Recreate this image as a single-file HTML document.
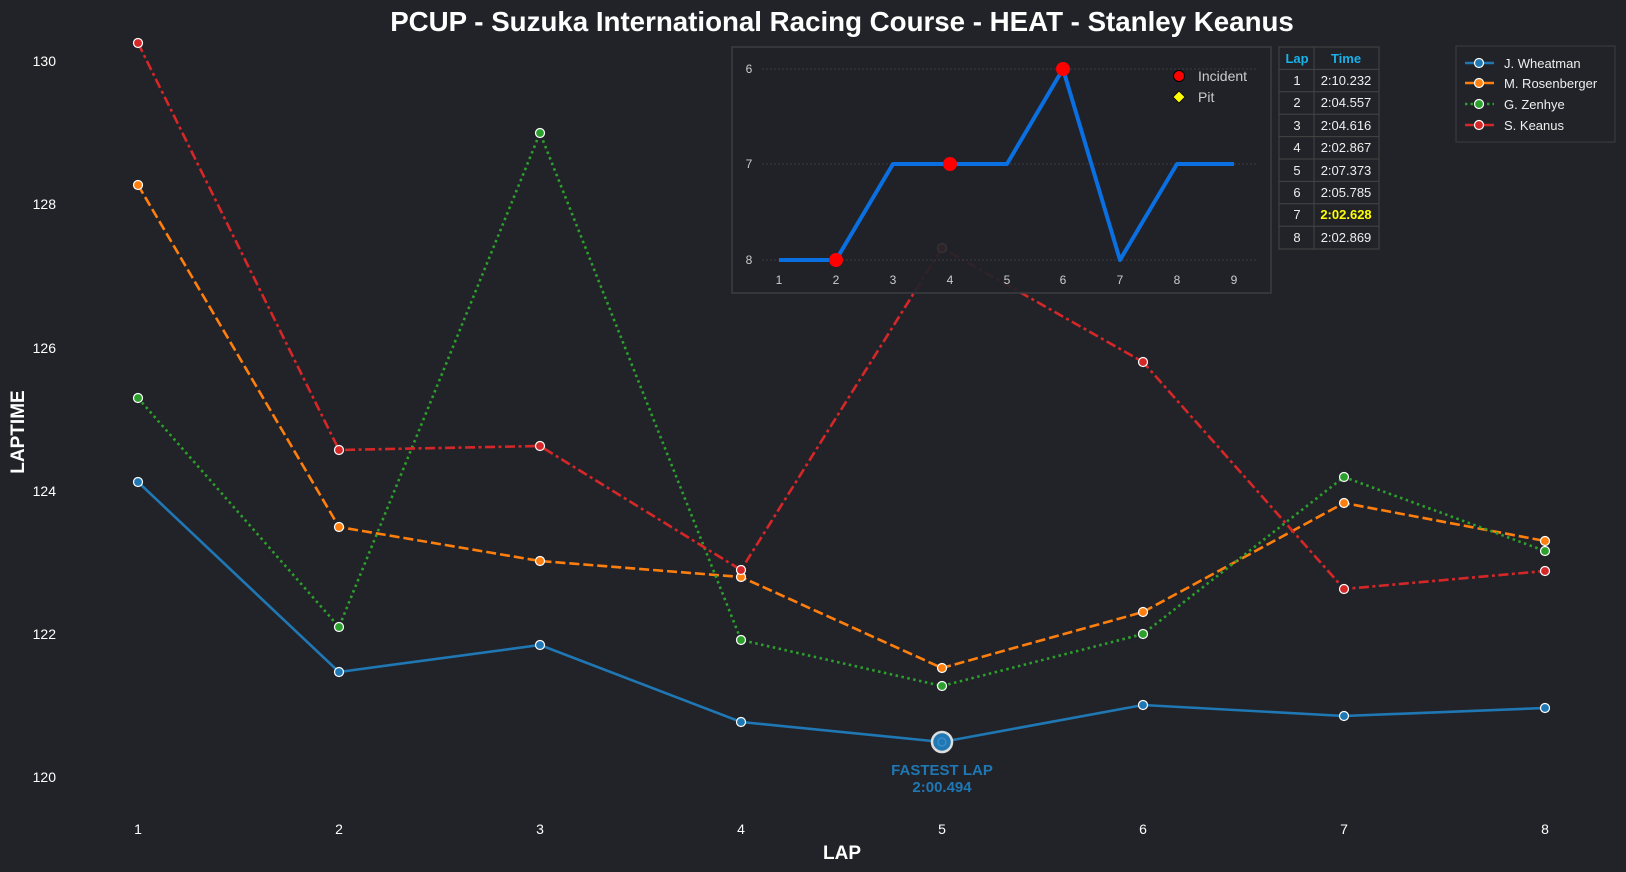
<!DOCTYPE html>
<html><head><meta charset="utf-8"><style>
html,body{margin:0;padding:0;background:#212328;}
svg{display:block;font-family:"Liberation Sans",sans-serif;}
</style></head><body>
<svg width="1626" height="872" viewBox="0 0 1626 872" xmlns="http://www.w3.org/2000/svg">
<rect width="1626" height="872" fill="#212328"/>
<text x="842" y="31" text-anchor="middle" fill="#fff" font-size="27.7" font-weight="bold">PCUP - Suzuka International Racing Course - HEAT - Stanley Keanus</text>
<g fill="#fff" font-size="14" text-anchor="end">
<text x="56" y="66">130</text><text x="56" y="209">128</text><text x="56" y="353">126</text>
<text x="56" y="496">124</text><text x="56" y="639">122</text><text x="56" y="782">120</text>
</g>
<text transform="translate(24,432) rotate(-90)" text-anchor="middle" fill="#fff" font-size="19" font-weight="bold">LAPTIME</text>
<g fill="#fff" font-size="14" text-anchor="middle">
<text x="138" y="834">1</text><text x="339" y="834">2</text><text x="540" y="834">3</text><text x="741" y="834">4</text>
<text x="942" y="834">5</text><text x="1143" y="834">6</text><text x="1344" y="834">7</text><text x="1545" y="834">8</text>
</g>
<text x="842" y="859" text-anchor="middle" fill="#fff" font-size="19" font-weight="bold">LAP</text>

<g fill="none" stroke-width="2.6">
<polyline stroke="#1f77b4" points="138,482 339,672 540,645 741,722 942,742 1143,705 1344,716 1545,708"/>
<polyline stroke="#ff7f0e" stroke-dasharray="10,4" points="138,185 339,527 540,561 741,577 942,668 1143,612 1344,503 1545,541"/>
<polyline stroke="#2ca02c" stroke-dasharray="2.5,3.5" points="138,398 339,627 540,133 741,640 942,686 1143,634 1344,477 1545,551"/>
<polyline stroke="#d62728" stroke-dasharray="10,3.5,3,3.5" points="138,43 339,450 540,446 741,570 942,248 1143,362 1344,589 1545,571"/>
</g>
<g stroke="#fff" stroke-width="1.2">
<g fill="#1f77b4"><circle cx="138" cy="482" r="4.5"/><circle cx="339" cy="672" r="4.5"/><circle cx="540" cy="645" r="4.5"/><circle cx="741" cy="722" r="4.5"/><circle cx="1143" cy="705" r="4.5"/><circle cx="1344" cy="716" r="4.5"/><circle cx="1545" cy="708" r="4.5"/></g>
<g fill="#ff7f0e"><circle cx="138" cy="185" r="4.5"/><circle cx="339" cy="527" r="4.5"/><circle cx="540" cy="561" r="4.5"/><circle cx="741" cy="577" r="4.5"/><circle cx="942" cy="668" r="4.5"/><circle cx="1143" cy="612" r="4.5"/><circle cx="1344" cy="503" r="4.5"/><circle cx="1545" cy="541" r="4.5"/></g>
<g fill="#2ca02c"><circle cx="138" cy="398" r="4.5"/><circle cx="339" cy="627" r="4.5"/><circle cx="540" cy="133" r="4.5"/><circle cx="741" cy="640" r="4.5"/><circle cx="942" cy="686" r="4.5"/><circle cx="1143" cy="634" r="4.5"/><circle cx="1344" cy="477" r="4.5"/><circle cx="1545" cy="551" r="4.5"/></g>
<g fill="#d62728"><circle cx="138" cy="43" r="4.5"/><circle cx="339" cy="450" r="4.5"/><circle cx="540" cy="446" r="4.5"/><circle cx="741" cy="570" r="4.5"/><circle cx="942" cy="248" r="4.5"/><circle cx="1143" cy="362" r="4.5"/><circle cx="1344" cy="589" r="4.5"/><circle cx="1545" cy="571" r="4.5"/></g>
</g>
<circle cx="942" cy="742" r="10" fill="#1f77b4" stroke="#ddd" stroke-width="2.5"/>
<circle cx="942" cy="742" r="4" fill="none" stroke="#3a8cc8" stroke-width="1.5"/>
<text x="942" y="775" text-anchor="middle" fill="#1f77b4" font-size="15" font-weight="bold">FASTEST LAP</text>
<text x="942" y="792" text-anchor="middle" fill="#1f77b4" font-size="15" font-weight="bold">2:00.494</text>

<!-- inset -->
<rect x="732" y="47" width="539" height="246" fill="#212328" fill-opacity="0.92" stroke="#3a3c42" stroke-width="1.5"/>
<g stroke="#3a3c42" stroke-dasharray="2,2" stroke-width="1">
<line x1="762" y1="69" x2="1257" y2="69"/><line x1="762" y1="164" x2="1257" y2="164"/><line x1="762" y1="260" x2="1257" y2="260"/>
</g>
<g fill="#ccc" font-size="12" text-anchor="middle">
<text x="749" y="73">6</text><text x="749" y="168">7</text><text x="749" y="264">8</text>
<text x="779" y="284">1</text><text x="836" y="284">2</text><text x="893" y="284">3</text><text x="950" y="284">4</text><text x="1007" y="284">5</text><text x="1063" y="284">6</text><text x="1120" y="284">7</text><text x="1177" y="284">8</text><text x="1234" y="284">9</text>
</g>
<polyline fill="none" stroke="#0a6fe0" stroke-width="4" stroke-linejoin="round" points="779,260 836,260 893,164 950,164 1007,164 1063,69 1120,260 1177,164 1234,164"/>
<g fill="#ff0000"><circle cx="836" cy="260" r="7"/><circle cx="950" cy="164" r="7"/><circle cx="1063" cy="69" r="7"/></g>
<circle cx="1179" cy="76" r="5.5" fill="#ff0000" stroke="#000" stroke-width="1"/>
<polygon points="1179,91 1185,97 1179,103 1173,97" fill="#ffff00" stroke="#000" stroke-width="0.8"/>
<text x="1198" y="81" fill="#ccc" font-size="14">Incident</text>
<text x="1198" y="102" fill="#ccc" font-size="14">Pit</text>

<!-- table -->
<g stroke="#444" stroke-width="1" fill="none">
<rect x="1279" y="47" width="100" height="202"/>
<line x1="1314" y1="47" x2="1314" y2="249"/>
<line x1="1279" y1="69.4" x2="1379" y2="69.4"/><line x1="1279" y1="91.8" x2="1379" y2="91.8"/><line x1="1279" y1="114.2" x2="1379" y2="114.2"/><line x1="1279" y1="136.6" x2="1379" y2="136.6"/><line x1="1279" y1="159" x2="1379" y2="159"/><line x1="1279" y1="181.4" x2="1379" y2="181.4"/><line x1="1279" y1="203.8" x2="1379" y2="203.8"/><line x1="1279" y1="226.2" x2="1379" y2="226.2"/>
</g>
<g font-size="13" text-anchor="middle" fill="#eee">
<text x="1297" y="63" fill="#1ab0e8" font-weight="bold">Lap</text><text x="1346" y="63" fill="#1ab0e8" font-weight="bold">Time</text>
<text x="1297" y="85">1</text><text x="1346" y="85">2:10.232</text>
<text x="1297" y="107">2</text><text x="1346" y="107">2:04.557</text>
<text x="1297" y="130">3</text><text x="1346" y="130">2:04.616</text>
<text x="1297" y="152">4</text><text x="1346" y="152">2:02.867</text>
<text x="1297" y="175">5</text><text x="1346" y="175">2:07.373</text>
<text x="1297" y="197">6</text><text x="1346" y="197">2:05.785</text>
<text x="1297" y="219">7</text><text x="1346" y="219" fill="#ffff00" font-weight="bold">2:02.628</text>
<text x="1297" y="242">8</text><text x="1346" y="242">2:02.869</text>
</g>

<!-- legend -->
<rect x="1456" y="46" width="159" height="96" fill="#212328" stroke="#3a3c42" stroke-width="1"/>
<g stroke-width="2.5">
<line x1="1465" y1="63" x2="1494" y2="63" stroke="#1f77b4"/>
<line x1="1465" y1="83" x2="1494" y2="83" stroke="#ff7f0e"/>
<line x1="1465" y1="104" x2="1494" y2="104" stroke="#2ca02c" stroke-dasharray="2.5,3"/>
<line x1="1465" y1="125" x2="1494" y2="125" stroke="#d62728"/>
</g>
<g stroke="#fff" stroke-width="1.2">
<circle cx="1479" cy="63" r="4.5" fill="#1f77b4"/><circle cx="1479" cy="83" r="4.5" fill="#ff7f0e"/><circle cx="1479" cy="104" r="4.5" fill="#2ca02c"/><circle cx="1479" cy="125" r="4.5" fill="#d62728"/>
</g>
<g fill="#eee" font-size="13">
<text x="1504" y="68">J. Wheatman</text><text x="1504" y="88">M. Rosenberger</text><text x="1504" y="109">G. Zenhye</text><text x="1504" y="130">S. Keanus</text>
</g>
</svg>
</body></html>
